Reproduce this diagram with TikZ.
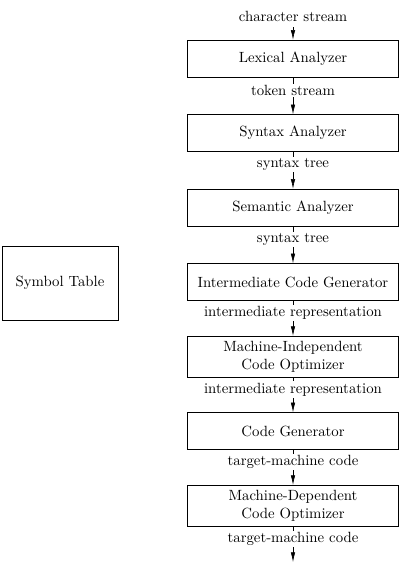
\documentclass[tikz,border=0pt]{standalone}
\usetikzlibrary{arrows.meta}
\begin{document}
\begin{tikzpicture}[
  phase/.style={draw, minimum width=5cm, minimum height=0.88cm, align=center},
  flow/.style={fill=white, inner sep=1pt},
  >={Latex[length=6.5pt,width=3pt]}]
\useasboundingbox (0,0) rectangle (9.62,-13.54);
\node[phase] (lex) at (6.96,-1.39) {Lexical Analyzer};
\node[phase] (syn) at (6.96,-3.16) {Syntax Analyzer};
\node[phase] (sem) at (6.96,-4.93) {Semantic Analyzer};
\node[phase] (icg) at (6.96,-6.70) {Intermediate Code Generator};
\node[phase] (mio) at (6.96,-8.47) {Machine-Independent\\Code Optimizer};
\node[phase] (gen) at (6.96,-10.24) {Code Generator};
\node[phase] (mdo) at (6.96,-12.01) {Machine-Dependent\\Code Optimizer};
\node[draw, minimum width=2.75cm, minimum height=1.76cm] (symtab) at (1.425,-6.72) {Symbol Table};
\node (in) at (6.96,-0.40) {character stream};
\coordinate (out) at (6.96,-13.35);
\draw[->] (in) -- (lex);
\foreach \a/\b/\t in {lex/syn/token stream, syn/sem/syntax tree, sem/icg/syntax tree,
  icg/mio/intermediate representation, mio/gen/intermediate representation,
  gen/mdo/target-machine code, mdo/out/target-machine code}
  \draw[->] (\a) -- node[flow, pos=0.35] {\t} (\b);
\end{tikzpicture}
\end{document}
